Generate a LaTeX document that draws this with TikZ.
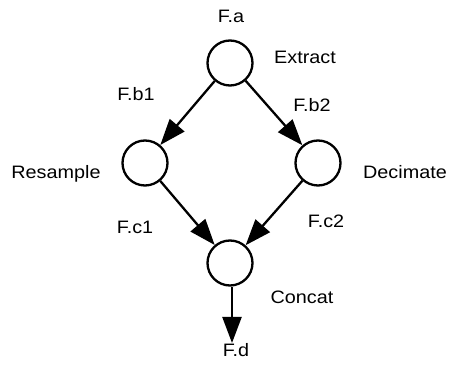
\documentclass[tikz,border=0pt]{standalone}
\usepackage{fontspec}
\setmainfont{Liberation Sans}[FakeStretch=1.1]
\usetikzlibrary{arrows.meta}
\begin{document}
\begin{tikzpicture}[x=1pt,y=-1pt,
  proc/.style={draw,circle,line width=2.3pt,minimum size=45pt,inner sep=0pt},
  lbl/.style={anchor=base,inner sep=0pt,font=\fontsize{18}{21}\selectfont},
  flow/.style={line width=2.3pt,-{Triangle[length=26pt,width=19pt]}}]
\useasboundingbox (0,0) rectangle (451,374);
\node[proc] (a) at (230,63) {};
\node[proc] (r) at (145,163) {};
\node[proc] (d) at (318,163) {};
\node[proc] (c) at (230,263) {};
\coordinate (e) at (232,343);
\draw[flow] (a) -- (r);
\draw[flow] (a) -- (d);
\draw[flow] (r) -- (c);
\draw[flow] (d) -- (c);
\draw[flow] (c.south -| e) -- (e);
\node[lbl] (la) at (231,23) {F.a};
\node[lbl] (lex) at (305,64) {Extract};
\node[lbl] (lb1) at (136,101) {F.b1};
\node[lbl] (lb2) at (312,112) {F.b2};
\node[lbl] (lres) at (56,179) {Resample};
\node[lbl] (ldec) at (405,179) {Decimate};
\node[lbl] (lc1) at (135,234) {F.c1};
\node[lbl] (lc2) at (326,228) {F.c2};
\node[lbl] (lcon) at (302,304) {Concat};
\node[lbl] (ld) at (236,357) {F.d};
\end{tikzpicture}
\end{document}
